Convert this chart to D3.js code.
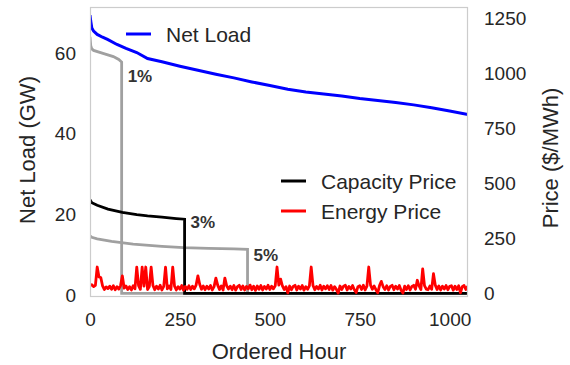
<!DOCTYPE html>
<html>
<head>
<meta charset="utf-8">
<script src="https://cdn.jsdelivr.net/npm/d3@7"></script>
<style>
  html, body { margin: 0; padding: 0; background: #fff; }
  svg { display: block; font-family: "Liberation Sans", Arial, sans-serif; }
</style>
</head>
<body>
<svg id="chart" width="570" height="365"></svg>
<script>
// Net load duration curve (GW) over ordered hours
const netLoadHours = [0, 2, 5, 10, 20, 35, 50, 75, 100, 130, 160, 200, 250, 300, 350, 400, 450, 500, 550, 600, 650, 700, 750, 800, 850, 900, 950, 1000, 1051];
const netLoadGW    = [69.5, 68, 66.3, 65.5, 64.7, 64, 63.4, 62.2, 61.2, 60.2, 58.7, 57.9, 56.8, 55.8, 54.8, 53.9, 52.9, 52.0, 51.1, 50.4, 49.9, 49.4, 48.8, 48.3, 47.8, 47.2, 46.5, 45.7, 44.8];

// Capacity price curves ($/MWh) for 1%, 3% and 5% scarcity hours
const cap1Hours  = [0, 2, 5, 10, 25, 45, 65, 80, 88, 88, 1051];
const cap1Price  = [1165, 1125, 1110, 1103, 1095, 1085, 1075, 1062, 1050, 0, 0];
const cap3Hours  = [0, 5, 20, 50, 90, 130, 160, 200, 240, 263, 263, 1051];
const cap3Price  = [425, 412, 400, 383, 368, 358, 352, 346, 340, 337, 0, 0];
const cap5Hours  = [0, 5, 20, 60, 120, 200, 260, 330, 400, 438, 438, 1051];
const cap5Price  = [262, 255, 248, 236, 224, 214, 208, 205, 202, 200, 0, 0];

// Energy price ($/MWh), sampled every 5 ordered hours
const energyStep = 5;
const energyPrice = [
  35, 40, 31, 37, 120, 75, 72, 34, 18, 30,
  22, 33, 19, 35, 17, 31, 20, 36, 80, 24,
  34, 18, 31, 16, 35, 21, 120, 36, 19, 120,
  33, 120, 18, 32, 120, 36, 17, 33, 20, 37,
  16, 32, 120, 21, 34, 18, 120, 33, 16, 31,
  20, 36, 15, 32, 19, 35, 18, 33, 21, 38,
  80, 42, 19, 34, 17, 33, 20, 36, 16, 31,
  70, 38, 18, 34, 16, 70, 35, 20, 33, 17,
  36, 15, 31, 37, 18, 34, 16, 32, 21, 38,
  17, 33, 14, 34, 19, 36, 16, 32, 20, 37,
  18, 33, 21, 35, 120, 38, 65, 34, 18, 31,
  3, 34, 17, 32, 37, 16, 33, 20, 36, 15,
  31, 19, 35, 120, 36, 17, 32, 20, 37, 16,
  33, 21, 35, 18, 36, 15, 31, 19, 2, 34,
  18, 33, 37, 16, 32, 20, 36, 17, 4, 31,
  35, 18, 37, 16, 33, 120, 38, 19, 34, 17,
  3, 36, 55, 31, 18, 35, 16, 32, 37, 17,
  33, 20, 36, 15, 2, 33, 18, 35, 16, 32,
  37, 19, 60, 34, 18, 112, 36, 20, 17, 34,
  19, 90, 38, 18, 34, 16, 33, 20, 36, 17,
  32, 35, 15, 33, 18, 35, 3, 31, 36, 18,
  33
];

const xTicks = [0, 250, 500, 750, 1000];
const loadTicks = [0, 20, 40, 60];
const priceTicks = [0, 250, 500, 750, 1000, 1250];

const tierLabels = [
  { text: "1%", hour: 88, price: 1050 },
  { text: "3%", hour: 263, price: 337 },
  { text: "5%", hour: 438, price: 200 }
];
// baseline offsets (px) of each tier label below its drop corner
const tierOffset = { "1%": 20, "3%": 9, "5%": 12 };

const svg = d3.select("#chart");
const L = 90, R = 468, T = 7, B = 297;
const ink = "#262626";

const x = d3.scaleLinear().domain([0, 1051]).range([L, R]);
const yLoad = d3.scaleLinear().domain([-0.5, 71.5]).range([B, T]);
const yPrice = d3.scaleLinear().domain([-16, 1300]).range([B, T]);

// Axes (no tick marks, no domain lines)
function styleAxis(g) {
  g.select(".domain").remove();
  g.selectAll(".tick line").remove();
  g.selectAll(".tick text").attr("fill", ink).style("font-size", "19px")
    .style("font-family", '"Liberation Sans", Arial, sans-serif');
}
svg.append("g").attr("transform", `translate(0,${B})`)
  .call(d3.axisBottom(x).tickValues(xTicks).tickSize(0).tickPadding(16).tickFormat(d3.format("d")))
  .call(styleAxis);
svg.append("g").attr("transform", `translate(${L},0)`)
  .call(d3.axisLeft(yLoad).tickValues(loadTicks).tickSize(0).tickPadding(14).tickFormat(d3.format("d")))
  .call(styleAxis);
svg.append("g").attr("transform", `translate(${R},0)`)
  .call(d3.axisRight(yPrice).tickValues(priceTicks).tickSize(0).tickPadding(16).tickFormat(d3.format("d")))
  .call(styleAxis);

// Clip for plotted lines
svg.append("clipPath").attr("id", "plotClip")
  .append("rect").attr("x", L).attr("y", T).attr("width", R - L).attr("height", B - T);
const plot = svg.append("g").attr("clip-path", "url(#plotClip)");

const loadLine = d3.line().x((d, i) => x(netLoadHours[i])).y(d => yLoad(d));
const priceLine = hours => d3.line().x((d, i) => x(hours[i])).y(d => yPrice(d));

plot.append("path").datum(netLoadGW).attr("d", loadLine)
  .attr("fill", "none").attr("stroke", "#0000ff").attr("stroke-width", 3);

plot.append("path").datum(cap1Price).attr("d", priceLine(cap1Hours))
  .attr("fill", "none").attr("stroke", "#a0a0a0").attr("stroke-width", 2.8);
plot.append("path").datum(cap5Price).attr("d", priceLine(cap5Hours))
  .attr("fill", "none").attr("stroke", "#a0a0a0").attr("stroke-width", 2.8);
plot.append("path").datum(cap3Price).attr("d", priceLine(cap3Hours))
  .attr("fill", "none").attr("stroke", "#000").attr("stroke-width", 2.8);

plot.append("path").datum(energyPrice)
  .attr("d", d3.line().x((d, i) => x(i * energyStep)).y(d => yPrice(d)))
  .attr("fill", "none").attr("stroke", "#ff0000").attr("stroke-width", 2.8)
  .attr("stroke-linejoin", "round");

// Plot frame
svg.append("rect").attr("x", L + 0.5).attr("y", T + 0.5)
  .attr("width", R - L - 1).attr("height", B - T - 1)
  .attr("fill", "none").attr("stroke", "#cccccc").attr("stroke-width", 1.2);

// Tier labels next to each capacity price drop
svg.selectAll(".tier").data(tierLabels).enter().append("text")
  .attr("class", "tier")
  .attr("x", d => x(d.hour) + 6)
  .attr("y", d => yPrice(d.price) + tierOffset[d.text])
  .attr("fill", "#333").style("font-size", "17px").style("font-weight", "bold")
  .text(d => d.text);

// Legends
function legendItem(x0, y0, color, label) {
  svg.append("line").attr("x1", x0).attr("x2", x0 + 25).attr("y1", y0).attr("y2", y0)
    .attr("stroke", color).attr("stroke-width", 3);
  svg.append("text").attr("x", x0 + 40).attr("y", y0).attr("dy", "0.36em")
    .attr("fill", ink).style("font-size", "21px").text(label);
}
legendItem(126, 34, "#0000ff", "Net Load");
legendItem(281, 181, "#000000", "Capacity Price");
legendItem(281, 211, "#ff0000", "Energy Price");

// Axis titles
svg.append("text").attr("x", 279).attr("y", 359).attr("text-anchor", "middle")
  .attr("fill", ink).style("font-size", "22px").text("Ordered Hour");
svg.append("text").attr("transform", "translate(27,150) rotate(-90)")
  .attr("text-anchor", "middle").attr("dy", "0.36em")
  .attr("fill", ink).style("font-size", "22px").text("Net Load (GW)");
svg.append("text").attr("transform", "translate(550,158) rotate(-90)")
  .attr("text-anchor", "middle").attr("dy", "0.36em")
  .attr("fill", ink).style("font-size", "22px").text("Price ($/MWh)");
</script>
</body>
</html>
